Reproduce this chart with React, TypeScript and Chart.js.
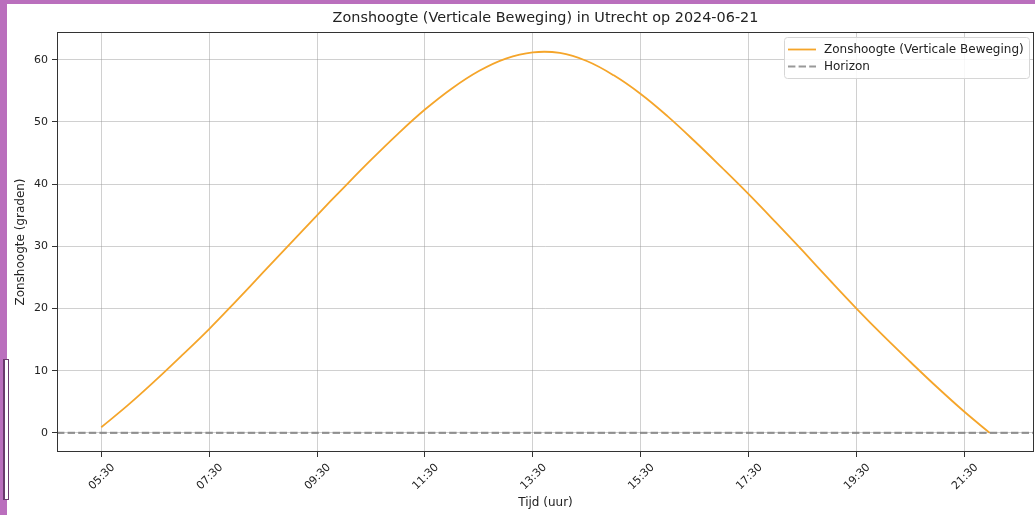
import React, { useEffect, useRef } from 'react';
import { Chart, registerables } from 'chart.js';

Chart.register(...registerables);

// ---- Texts ----
const TITLE = 'Zonshoogte (Verticale Beweging) in Utrecht op 2024-06-21';
const SERIES_LABEL = 'Zonshoogte (Verticale Beweging)';
const HORIZON_LABEL = 'Horizon';
const X_TITLE = 'Tijd (uur)';
const Y_TITLE = 'Zonshoogte (graden)';

// ---- Data (time in decimal hours, altitude in degrees) ----
const hours = [
  5.5, 6.0, 6.5, 7.0, 7.5, 8.0, 8.5, 9.0, 9.5, 10.0, 10.5, 11.0, 11.5, 12.0, 12.5,
  13.0, 13.5, 14.0, 14.5, 15.0, 15.5, 16.0, 16.5, 17.0, 17.5, 18.0, 18.5,
  19.0, 19.5, 20.0, 20.5, 21.0, 21.5, 21.97,
];
const altitude = [
  0.9, 4.5, 8.4, 12.5, 16.7, 21.2, 25.8, 30.4, 35.0, 39.5, 43.9, 48.1, 52.0, 55.4, 58.2,
  60.2, 61.2, 61.1, 59.8, 57.5, 54.5, 50.9, 46.9, 42.7, 38.4, 33.9, 29.3,
  24.6, 20.0, 15.6, 11.4, 7.3, 3.4, 0.0,
];
const horizonValue = 0;

// ---- Axes ----
const xTickHours = [5.5, 7.5, 9.5, 11.5, 13.5, 15.5, 17.5, 19.5, 21.5];
const xTickLabels = ['05:30', '07:30', '09:30', '11:30', '13:30', '15:30', '17:30', '19:30', '21:30'];
const yTicks = [0, 10, 20, 30, 40, 50, 60];
const xRange = [4.68, 22.79];
const yRange = [-3.07, 64.47];

// ---- Styles ----
const FONT = 'DejaVu Sans';
const TEXT_COLOR = '#222222';
const ORANGE = '#f5a52a';
const HORIZON_COLOR = 'rgba(128,128,128,0.8)';
const GRID_COLOR = 'rgba(150,150,150,0.45)';
const SPINE_COLOR = '#333333';
const HORIZON_DASH = [7.4, 3.2];

const frameLegendTitle = {
  id: 'frameLegendTitle',
  afterDatasetsDraw(chart: any) {
    const { ctx, chartArea } = chart;
    ctx.save();
    ctx.strokeStyle = SPINE_COLOR;
    ctx.lineWidth = 1;
    ctx.strokeRect(
      Math.round(chartArea.left) + 0.5,
      Math.round(chartArea.top) + 0.5,
      Math.round(chartArea.right - chartArea.left) - 1,
      Math.round(chartArea.bottom - chartArea.top) - 1
    );
    ctx.restore();
  },
  afterDraw(chart: any) {
    const { ctx, chartArea } = chart;
    const ds = chart.data.datasets;
    ctx.save();
    // title centred over the axes
    ctx.font = `14.4px "${FONT}"`;
    ctx.fillStyle = TEXT_COLOR;
    ctx.textAlign = 'center';
    ctx.textBaseline = 'middle';
    ctx.fillText(TITLE, (chartArea.left + chartArea.right) / 2, 18);

    // legend box
    const bx = 784.5, by = 37.5, bw = 245, bh = 41;
    ctx.beginPath();
    (ctx as any).roundRect(bx, by, bw, bh, 3);
    ctx.fillStyle = 'rgba(255,255,255,0.85)';
    ctx.fill();
    ctx.strokeStyle = '#d6d6d6';
    ctx.lineWidth = 1;
    ctx.stroke();
    const rows = [
      { y: 49.5, color: ds[0].borderColor, width: 1.8, dash: [] as number[], label: ds[0].label },
      { y: 66.5, color: ds[1].borderColor, width: 2.2, dash: HORIZON_DASH, label: ds[1].label },
    ];
    ctx.font = `12px "${FONT}"`;
    ctx.textBaseline = 'middle';
    ctx.textAlign = 'left';
    for (const r of rows) {
      ctx.beginPath();
      ctx.setLineDash(r.dash);
      ctx.strokeStyle = r.color;
      ctx.lineWidth = r.width;
      ctx.moveTo(788, r.y);
      ctx.lineTo(816, r.y);
      ctx.stroke();
      ctx.setLineDash([]);
      ctx.fillStyle = TEXT_COLOR;
      ctx.fillText(r.label, 824, r.y);
    }
    ctx.restore();
  },
};

export default function App() {
  const canvasRef = useRef<HTMLCanvasElement | null>(null);

  useEffect(() => {
    if (!canvasRef.current) return;
    const curve = hours.map((h, i) => ({ x: h, y: altitude[i] }));
    const horizon = [
      { x: xRange[0], y: horizonValue },
      { x: xRange[1], y: horizonValue },
    ];
    const tickFont = { family: FONT, size: 11 };
    const chart = new Chart(canvasRef.current, {
      type: 'line',
      data: {
        datasets: [
          {
            label: SERIES_LABEL,
            data: curve,
            borderColor: ORANGE,
            borderWidth: 1.8,
            pointRadius: 0,
            tension: 0.4,
            fill: false,
            order: 1,
          },
          {
            label: HORIZON_LABEL,
            data: horizon,
            borderColor: HORIZON_COLOR,
            borderWidth: 2.2,
            borderDash: HORIZON_DASH,
            pointRadius: 0,
            tension: 0,
            fill: false,
            order: 0,
          },
        ],
      },
      options: {
        responsive: false,
        animation: false,
        events: [],
        layout: { padding: { left: 0, right: 1, top: 32, bottom: 0 } },
        plugins: {
          legend: { display: false },
          tooltip: { enabled: false },
          title: { display: false },
        },
        scales: {
          x: {
            type: 'linear',
            min: xRange[0],
            max: xRange[1],
            afterBuildTicks: (s: any) => {
              s.ticks = xTickHours.map((v) => ({ value: v }));
            },
            afterFit: (s: any) => {
              s.height = 63;
            },
            ticks: {
              autoSkip: false,
              minRotation: 45,
              maxRotation: 45,
              labelOffset: 12,
              padding: 4,
              color: TEXT_COLOR,
              font: tickFont,
              callback: (v: any) => {
                const i = xTickHours.indexOf(Number(v));
                return i >= 0 ? xTickLabels[i] : '';
              },
            },
            grid: {
              color: GRID_COLOR,
              lineWidth: 1,
              drawTicks: true,
              tickLength: 5,
              tickColor: SPINE_COLOR,
            },
            border: { display: false },
            title: {
              display: true,
              text: X_TITLE,
              color: TEXT_COLOR,
              font: { family: FONT, size: 12 },
              padding: { top: 0, bottom: 4.8 },
            },
          },
          y: {
            type: 'linear',
            min: yRange[0],
            max: yRange[1],
            afterBuildTicks: (s: any) => {
              s.ticks = yTicks.map((v) => ({ value: v }));
            },
            afterFit: (s: any) => {
              s.width = 57;
            },
            ticks: {
              padding: 4,
              color: TEXT_COLOR,
              font: tickFont,
              callback: (v: any) => String(v),
            },
            grid: {
              color: GRID_COLOR,
              lineWidth: 1,
              drawTicks: true,
              tickLength: 5,
              tickColor: SPINE_COLOR,
            },
            border: { display: false },
            title: {
              display: true,
              text: Y_TITLE,
              color: TEXT_COLOR,
              font: { family: FONT, size: 12 },
              padding: { top: 13.8, bottom: 0 },
            },
          },
        },
      },
      plugins: [frameLegendTitle],
    } as any);
    return () => chart.destroy();
  }, []);

  return (
    <div
      style={{
        position: 'fixed',
        left: 0,
        top: 0,
        width: 1035,
        height: 515,
        background: '#ba6fbd',
        overflow: 'hidden',
      }}
    >
      <div
        style={{
          position: 'absolute',
          left: 7,
          top: 4,
          width: 1028,
          height: 511,
          background: '#ffffff',
        }}
      />
      <div
        style={{
          position: 'absolute',
          left: 3,
          top: 359,
          width: 6,
          height: 141,
          boxSizing: 'border-box',
          border: '1px solid #6a3a6d',
          borderLeftWidth: 2,
          background: '#ffffff',
        }}
      />
      <canvas
        ref={canvasRef}
        width={1035}
        height={515}
        style={{ position: 'absolute', left: 0, top: 0, width: 1035, height: 515, display: 'block' }}
      />
    </div>
  );
}
